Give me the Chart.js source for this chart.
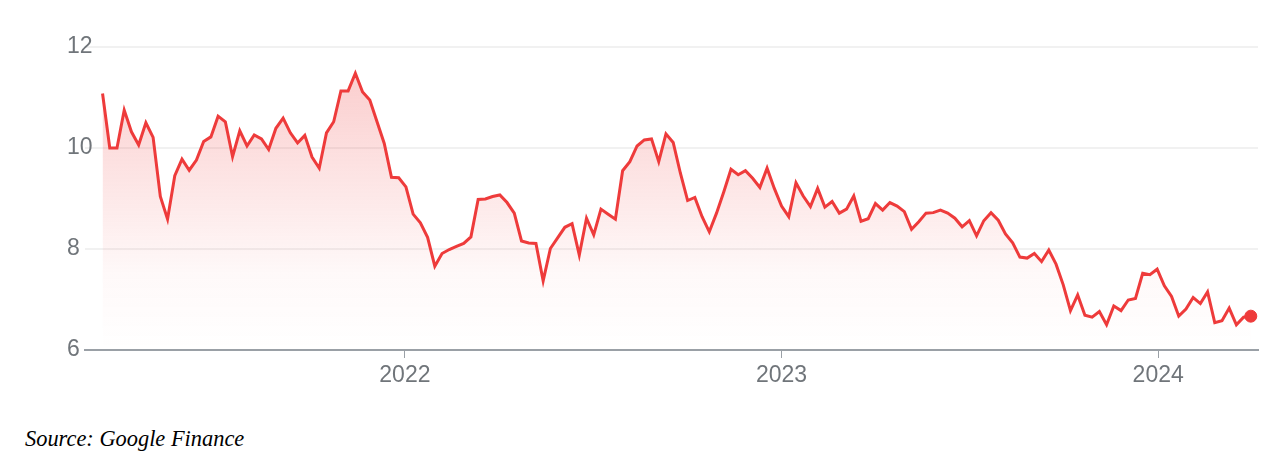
<!DOCTYPE html>
<html>
<head>
<meta charset="utf-8">
<script src="https://cdn.jsdelivr.net/npm/chart.js@4/dist/chart.umd.min.js"></script>
<style>
  body { margin: 0; background: #fff; }
  #wrap { position: relative; width: 1284px; height: 460px; }
  #box { position: absolute; left: 0; top: 0; width: 1284px; height: 400px; }
  #source { position: absolute; left: 25px; top: 426px; font: italic 22.4px "Liberation Serif", "DejaVu Serif", serif; color: #000; }
</style>
</head>
<body>
<div id="wrap">
  <div id="box"><canvas id="lineChart"></canvas></div>
  <div id="source">Source: Google Finance</div>
</div>
<script>
// weekly closes
var firstDate = '2021-03-14';
var prices = [
  11.08, 10.00, 10.00, 10.75, 10.32, 10.06, 10.50, 10.21, 9.04, 8.59,
  9.45, 9.78, 9.56, 9.76, 10.13, 10.22, 10.63, 10.52, 9.83, 10.34,
  10.04, 10.26, 10.18, 9.97, 10.39, 10.59, 10.30, 10.10, 10.25, 9.82,
  9.60, 10.30, 10.52, 11.13, 11.13, 11.48, 11.11, 10.95, 10.52, 10.09,
  9.42, 9.41, 9.23, 8.69, 8.52, 8.23, 7.66, 7.91, 7.99, 8.05,
  8.11, 8.24, 8.98, 8.99, 9.04, 9.07, 8.92, 8.71, 8.16, 8.12,
  8.11, 7.37, 8.01, 8.22, 8.43, 8.50, 7.88, 8.61, 8.28, 8.79,
  8.69, 8.59, 9.55, 9.73, 10.04, 10.16, 10.18, 9.73, 10.28, 10.11,
  9.50, 8.96, 9.02, 8.64, 8.34, 8.71, 9.13, 9.58, 9.47, 9.55,
  9.40, 9.22, 9.60, 9.20, 8.85, 8.64, 9.31, 9.05, 8.84, 9.20,
  8.83, 8.94, 8.71, 8.79, 9.05, 8.55, 8.60, 8.90, 8.77, 8.92,
  8.85, 8.74, 8.39, 8.54, 8.71, 8.72, 8.77, 8.71, 8.61, 8.44,
  8.56, 8.26, 8.56, 8.72, 8.57, 8.30, 8.12, 7.84, 7.82, 7.91,
  7.75, 7.98, 7.70, 7.29, 6.78, 7.09, 6.69, 6.65, 6.76, 6.50,
  6.87, 6.78, 6.99, 7.02, 7.52, 7.49, 7.60, 7.27, 7.06, 6.67,
  6.81, 7.04, 6.92, 7.15, 6.54, 6.58, 6.83, 6.50, 6.65, 6.67
];
var yearTicks = [2022, 2023, 2024];
var priceTicks = [6, 8, 10, 12];

var red = '#ee3b3b';
var grey = '#70757a';

function yearFrac(d) {
  var y = d.getUTCFullYear();
  var a = Date.UTC(y, 0, 1), b = Date.UTC(y + 1, 0, 1);
  return y + (d.getTime() - a) / (b - a);
}

var t0 = new Date(firstDate + 'T00:00:00Z');
var points = prices.map(function (p, i) {
  var d = new Date(t0.getTime() + i * 7 * 86400000);
  return { x: yearFrac(d), y: p };
});
var last = points.length - 1;

var ctxL = document.getElementById('lineChart').getContext('2d');
var myLineChart = new Chart(ctxL, {
  type: 'line',
  data: {
    datasets: [{
      data: points,
      borderColor: red,
      borderWidth: 3,
      tension: 0,
      fill: 'start',
      backgroundColor: function (c) {
        var a = c.chart.chartArea;
        if (!a) return 'rgba(238,59,59,0.15)';
        var g = c.chart.ctx.createLinearGradient(0, a.top, 0, a.bottom);
        g.addColorStop(0, 'rgba(238,59,59,0.28)');
        g.addColorStop(0.75, 'rgba(238,59,59,0.03)');
        g.addColorStop(1, 'rgba(238,59,59,0)');
        return g;
      },
      pointRadius: function (c) { return c.dataIndex === last ? 6 : 0; },
      pointBackgroundColor: red,
      pointBorderColor: red,
      pointBorderWidth: 1,
      pointHoverRadius: 0
    }]
  },
  options: {
    responsive: true,
    maintainAspectRatio: false,
    animation: false,
    layout: { padding: { left: 67, right: 26, top: 47, bottom: 0 } },
    plugins: { legend: { display: false }, tooltip: { enabled: false } },
    scales: {
      x: {
        type: 'linear',
        min: yearFrac(new Date('2021-02-25T00:00:00Z')),
        max: yearFrac(new Date('2024-04-07T00:00:00Z')),
        afterBuildTicks: function (s) { s.ticks = yearTicks.map(function (v) { return { value: v }; }); },
        afterFit: function (s) { s.height = 50; },
        border: { display: true, color: '#9aa0a6', width: 2 },
        grid: { drawOnChartArea: false, drawTicks: true, tickLength: 8, color: '#9aa0a6', lineWidth: 1 },
        ticks: {
          color: grey, padding: 4, maxRotation: 0,
          font: { family: 'Liberation Sans', size: 23 },
          callback: function (v) { return String(v); }
        }
      },
      y: {
        min: 6, max: 12,
        afterBuildTicks: function (s) { s.ticks = priceTicks.map(function (v) { return { value: v }; }); },
        afterFit: function (s) { s.width = 18; },
        border: { display: false },
        grid: { color: '#f1f1f1', lineWidth: 2, drawTicks: false },
        ticks: {
          color: grey, mirror: true, padding: -18,
          font: { family: 'Liberation Sans', size: 23 }
        }
      }
    }
  }
});
</script>
</body>
</html>
